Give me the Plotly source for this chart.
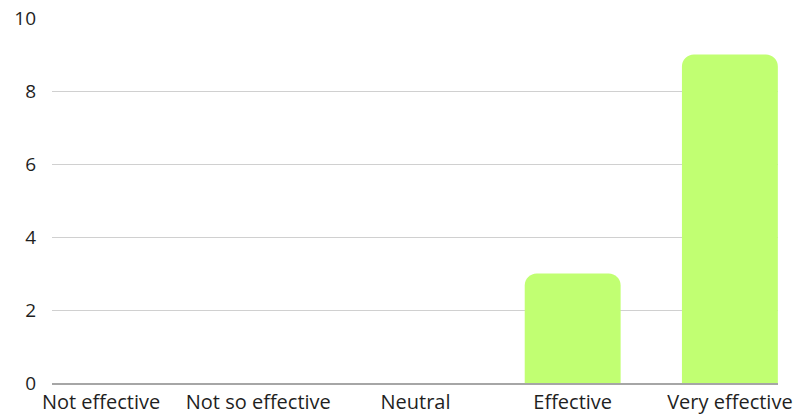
import plotly.graph_objects as go

# Survey responses: how effective respondents found it
categories = ["Not effective", "Not so effective", "Neutral", "Effective", "Very effective"]
counts = [0, 0, 0, 3, 9]
y_ticks = [0, 2, 4, 6, 8, 10]

BAR_COLOR = "#c1ff72"
FONT = "Open Sans"

fig = go.Figure(
    go.Bar(
        x=list(range(len(categories))),
        y=counts,
        width=0.61,
        marker=dict(color=BAR_COLOR, line=dict(width=0)),
        hoverinfo="skip",
    )
)

fig.update_layout(
    width=801,
    height=414,
    margin=dict(l=52, r=23, t=18, b=31),
    paper_bgcolor="white",
    plot_bgcolor="white",
    barcornerradius=12,
    showlegend=False,
    font=dict(family=FONT, size=19, color="#1f1f1f"),
)

fig.update_xaxes(
    range=[-0.312, 4.306],
    tickmode="array",
    tickvals=list(range(len(categories))),
    ticktext=categories,
    tickfont=dict(size=20),
    showgrid=False,
    zeroline=False,
    showline=True,
    linecolor="#a6a6a6",
    linewidth=1.5,
    layer="below traces",
    ticks="",
    ticklabelstandoff=0,
    automargin=False,
    fixedrange=True,
)

fig.update_yaxes(
    range=[0, 10],
    tickmode="array",
    tickvals=y_ticks,
    ticktext=[str(v) for v in y_ticks],
    showgrid=True,
    gridcolor="#d0d0d0",
    gridwidth=1,
    zeroline=False,
    showline=False,
    ticks="",
    ticklabelstandoff=15,
    automargin=False,
    fixedrange=True,
)

fig.write_html("out.html")
